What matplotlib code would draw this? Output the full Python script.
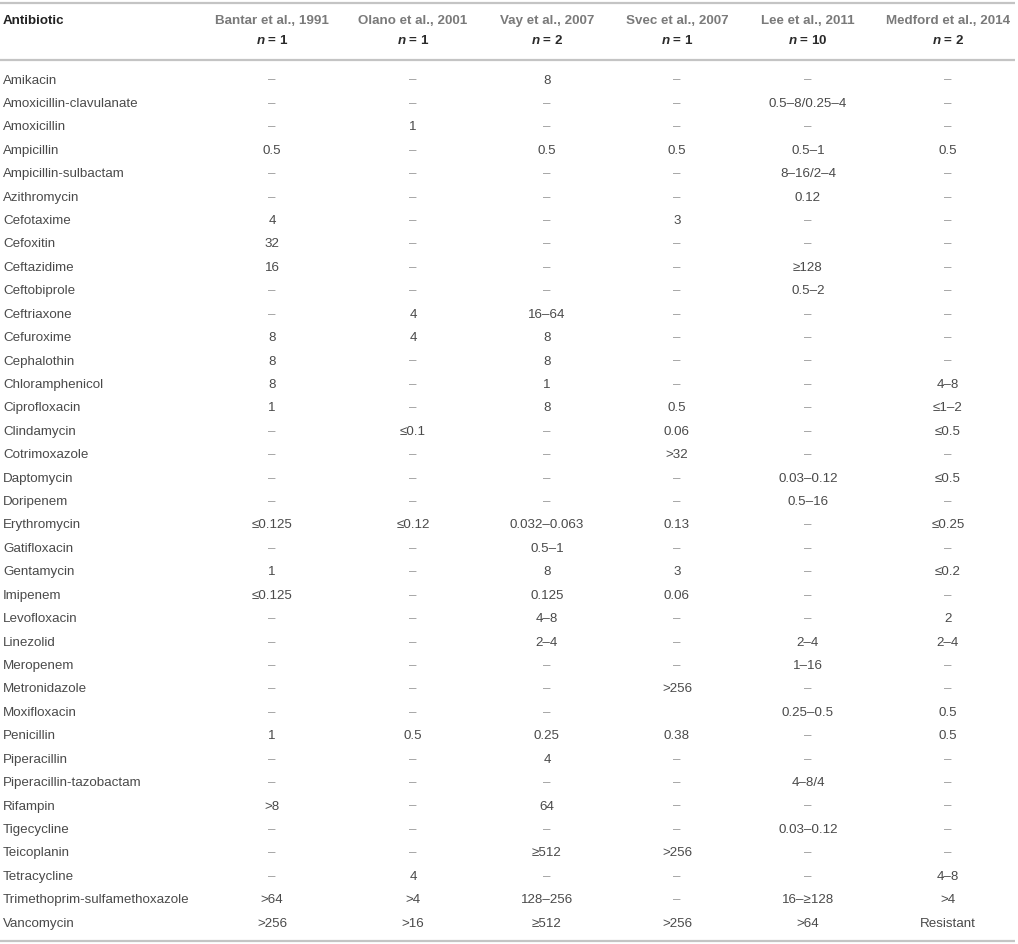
import matplotlib
matplotlib.use("Agg")
import matplotlib.pyplot as plt

plt.rcParams['font.family'] = ['Liberation Sans', 'DejaVu Sans']
plt.rcParams['mathtext.fontset'] = 'custom'
plt.rcParams['mathtext.it'] = 'Liberation Sans:italic:bold'
plt.rcParams['mathtext.rm'] = 'Liberation Sans:bold'

D = "–"  # empty cell

studies = ["Bantar et al., 1991", "Olano et al., 2001", "Vay et al., 2007",
           "Svec et al., 2007", "Lee et al., 2011", "Medford et al., 2014"]
n_cases = [1, 1, 2, 1, 10, 2]

antibiotics = [
    "Amikacin", "Amoxicillin-clavulanate", "Amoxicillin", "Ampicillin",
    "Ampicillin-sulbactam", "Azithromycin", "Cefotaxime", "Cefoxitin",
    "Ceftazidime", "Ceftobiprole", "Ceftriaxone", "Cefuroxime", "Cephalothin",
    "Chloramphenicol", "Ciprofloxacin", "Clindamycin", "Cotrimoxazole",
    "Daptomycin", "Doripenem", "Erythromycin", "Gatifloxacin", "Gentamycin",
    "Imipenem", "Levofloxacin", "Linezolid", "Meropenem", "Metronidazole",
    "Moxifloxacin", "Penicillin", "Piperacillin", "Piperacillin-tazobactam",
    "Rifampin", "Tigecycline", "Teicoplanin", "Tetracycline",
    "Trimethoprim-sulfamethoxazole", "Vancomycin",
]

bantar = [D, D, D, "0.5", D, D, "4", "32", "16", D, D, "8", "8", "8", "1", D, D,
          D, D, "≤0.125", D, "1", "≤0.125", D, D, D, D, D, "1", D, D, ">8", D,
          D, D, ">64", ">256"]
olano = [D, D, "1", D, D, D, D, D, D, D, "4", "4", D, D, D, "≤0.1", D, D, D,
         "≤0.12", D, D, D, D, D, D, D, D, "0.5", D, D, D, D, D, "4", ">4", ">16"]
vay = ["8", D, D, "0.5", D, D, D, D, D, D, "16–64", "8", "8", "1", "8", D, D, D,
       D, "0.032–0.063", "0.5–1", "8", "0.125", "4–8", "2–4", D, D, D, "0.25",
       "4", D, "64", D, "≥512", D, "128–256", "≥512"]
svec = [D, D, D, "0.5", D, D, "3", D, D, D, D, D, D, D, "0.5", "0.06", ">32", D,
        D, "0.13", D, "3", "0.06", D, D, D, ">256", "", "0.38", D, D, D, D,
        ">256", D, D, ">256"]
lee = [D, "0.5–8/0.25–4", D, "0.5–1", "8–16/2–4", "0.12", D, D, "≥128", "0.5–2",
       D, D, D, D, D, D, D, "0.03–0.12", "0.5–16", D, D, D, D, D, "2–4", "1–16",
       D, "0.25–0.5", D, D, "4–8/4", D, "0.03–0.12", D, D, "16–≥128", ">64"]
medford = [D, D, D, "0.5", D, D, D, D, D, D, D, D, D, "4–8", "≤1–2", "≤0.5", D,
           "≤0.5", D, "≤0.25", D, "≤0.2", D, "2", "2–4", D, D, "0.5", "0.5", D,
           D, D, D, D, "4–8", ">4", "Resistant"]
columns = [bantar, olano, vay, svec, lee, medford]

# layout (pixel coordinates)
W, H = 1018, 944
col_x = [272, 413, 547, 677, 808, 948]
row0, row_step = 80.5, 23.42
fs = 9.6
txt_color = "#4a4a4a"
rule_color = "#c4c4c4"

fig = plt.figure(figsize=(W / 100, H / 100), dpi=100)
ax = fig.add_axes([0, 0, 1, 1])
ax.set_xlim(0, W)
ax.set_ylim(H, 0)
ax.axis("off")

# rules
for y in [3, 60, 941]:
    ax.plot([0, 1015], [y, y], color=rule_color, lw=1.6, solid_capstyle="butt")

# header
ax.text(3, 21, "Antibiotic", fontsize=fs, fontweight="bold", color="#222222",
        ha="left", va="center")
for x, name, n in zip(col_x, studies, n_cases):
    ax.text(x, 21, name, fontsize=fs, fontweight="bold", color="#7a7a7a",
            ha="center", va="center")
    ax.text(x, 40, r"$n$ = %d" % n, fontsize=fs, fontweight="bold",
            color="#2a2a2a", ha="center", va="center")

# body
for i, name in enumerate(antibiotics):
    y = row0 + i * row_step
    ax.text(3, y, name, fontsize=fs, color=txt_color, ha="left", va="center")
    for x, col in zip(col_x, columns):
        cell = col[i]
        color = "#9a9a9a" if cell == D else txt_color
        ax.text(x, y, cell, fontsize=fs, color=color, ha="center", va="center")

fig.savefig("out.png", dpi=100)
